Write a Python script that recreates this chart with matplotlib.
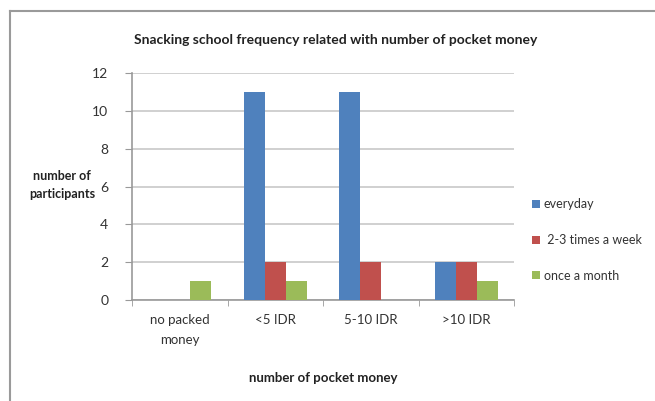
import numpy as np
import matplotlib.pyplot as plt
from matplotlib.lines import Line2D

# data
categories = ["no packed\nmoney", "<5 IDR", "5-10 IDR", ">10 IDR"]
series_names = ["everyday", " 2-3 times a week", "once a month"]
everyday = [0, 11, 11, 2]
few_times_week = [0, 2, 2, 2]
once_month = [1, 1, 0, 1]

colors = ["#4F81BD", "#C0504D", "#9BBB59"]
plt.rcParams["font.family"] = ["Lato", "DejaVu Sans"]

fig = plt.figure(figsize=(6.55, 4.01), dpi=100)
ax = fig.add_axes([132 / 655, 1 - 300 / 401, 382 / 655, 227 / 401])

x = np.arange(len(categories))
w = 0.22
for i, (vals, name) in enumerate(zip([everyday, few_times_week, once_month], series_names)):
    ax.bar(x + (i - 1) * w, vals, width=w, color=colors[i], label=name, zorder=3)

ax.set_xlim(-0.5, len(categories) - 0.5)
ax.set_ylim(0, 12)
ax.set_yticks(range(0, 13, 2))
ax.yaxis.grid(True, color="#c8c8c8", linewidth=1.2, zorder=0)

ax.set_xticks(x)
ax.set_xticklabels(categories, fontsize=9.5, color="#333333", linespacing=1.8)
ax.set_xticks(np.arange(-0.5, len(categories), 1.0), minor=True)
ax.tick_params(axis="x", which="major", length=0, pad=10)
ax.tick_params(axis="x", which="minor", length=4, color="#999999")
ax.tick_params(axis="y", length=5, color="#999999", labelsize=10, labelcolor="#333333", pad=12)

for side in ["top", "right"]:
    ax.spines[side].set_visible(False)
for side in ["left", "bottom"]:
    ax.spines[side].set_color("#999999")
    ax.spines[side].set_linewidth(1.2)

fig.text(336 / 655, 1 - 40 / 401, "Snacking school frequency related with number of pocket money",
         ha="center", va="center", fontsize=10, fontweight="bold", color="#222222")
fig.text(62 / 655, 1 - 185 / 401, "number of\nparticipants", ha="center", va="center",
         fontsize=9, fontweight="bold", color="#222222", linespacing=1.5)
fig.text(323 / 655, 1 - 378 / 401, "number of pocket money", ha="center", va="center",
         fontsize=9.5, fontweight="bold", color="#222222")

leg = fig.legend(loc="upper left", bbox_to_anchor=(521 / 655, 1 - 187 / 401), frameon=False,
                 handlelength=0.6, handleheight=0.6, handletextpad=0.3, labelspacing=1.9,
                 fontsize=9)
for t in leg.get_texts():
    t.set_color("#333333")

# outer chart frame
fig.add_artist(Line2D([10 / 655, 1], [1 - 11 / 401, 1 - 11 / 401], color="#9a9a9a", lw=1.5,
                      transform=fig.transFigure))
fig.add_artist(Line2D([10 / 655, 10 / 655], [0, 1 - 11 / 401], color="#9a9a9a", lw=1.5,
                      transform=fig.transFigure))

fig.savefig("out.png", dpi=100)
